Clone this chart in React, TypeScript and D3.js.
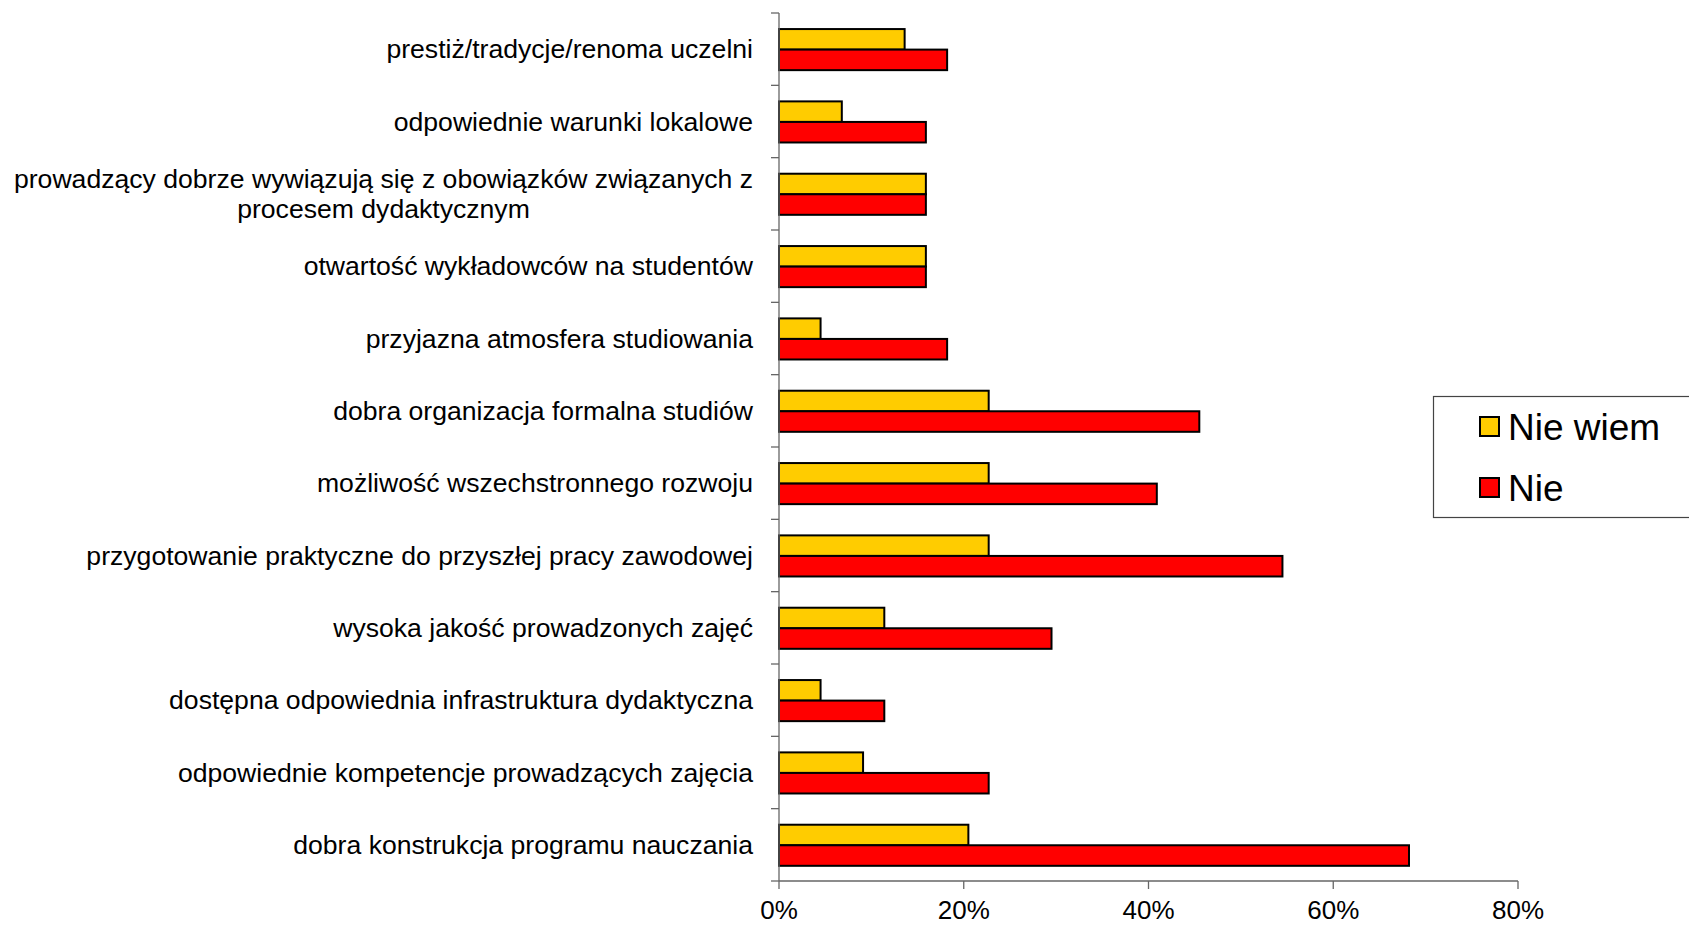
import React, { useEffect, useRef } from "react";
import * as d3 from "d3";

const categories: string[][] = [
  ["prestiż/tradycje/renoma uczelni"],
  ["odpowiednie warunki lokalowe"],
  ["prowadzący dobrze wywiązują się z obowiązków związanych z", "procesem dydaktycznym"],
  ["otwartość wykładowców na studentów"],
  ["przyjazna atmosfera studiowania"],
  ["dobra organizacja formalna studiów"],
  ["możliwość wszechstronnego rozwoju"],
  ["przygotowanie praktyczne do przyszłej pracy zawodowej"],
  ["wysoka jakość prowadzonych zajęć"],
  ["dostępna odpowiednia infrastruktura dydaktyczna"],
  ["odpowiednie kompetencje prowadzących zajęcia"],
  ["dobra konstrukcja programu nauczania"],
];

const nieWiem: number[] = [13.6, 6.8, 15.9, 15.9, 4.5, 22.7, 22.7, 22.7, 11.4, 4.5, 9.1, 20.5];
const nie: number[] = [18.2, 15.9, 15.9, 15.9, 18.2, 45.5, 40.9, 54.5, 29.5, 11.4, 22.7, 68.2];
const xTicks: number[] = [0, 20, 40, 60, 80];
const seriesNames: string[] = ["Nie wiem", "Nie"];
const seriesColors: string[] = ["#FFCC00", "#FF0000"];

export default function App() {
  const ref = useRef<SVGSVGElement | null>(null);

  useEffect(() => {
    const svg = d3.select(ref.current);
    svg.selectAll("*").remove();
    const font = "Liberation Sans, Arial, sans-serif";
    const fs = 26.6;

    const left = 779, right = 1518, top = 13, bottom = 881;
    const x = d3.scaleLinear().domain([0, 80]).range([left, right]);
    const y = d3.scaleBand<number>().domain(d3.range(categories.length)).range([top, bottom]);
    const bw = y.bandwidth();
    const barH = bw * 0.284;
    const off = bw * 0.222;

    const g = svg.append("g");

    const series = [nieWiem, nie];
    series.forEach((vals, si) => {
      g.selectAll(null)
        .data(vals)
        .enter()
        .append("rect")
        .attr("x", x(0))
        .attr("y", (_, i) => (y(i) as number) + off + si * barH)
        .attr("width", (d) => x(d) - x(0))
        .attr("height", barH)
        .attr("fill", seriesColors[si])
        .attr("stroke", "#000")
        .attr("stroke-width", 2);
    });

    const axisColor = "#666";
    g.append("line")
      .attr("x1", left).attr("x2", left).attr("y1", top).attr("y2", bottom)
      .attr("stroke", axisColor).attr("stroke-width", 1.3);
    for (let i = 0; i <= categories.length; i++) {
      const yy = i < categories.length ? (y(i) as number) : bottom;
      g.append("line")
        .attr("x1", left - 8).attr("x2", left).attr("y1", yy).attr("y2", yy)
        .attr("stroke", axisColor).attr("stroke-width", 1.3);
    }
    g.append("line")
      .attr("x1", left).attr("x2", right).attr("y1", bottom).attr("y2", bottom)
      .attr("stroke", axisColor).attr("stroke-width", 1.3);
    xTicks.forEach((t) => {
      g.append("line")
        .attr("x1", x(t)).attr("x2", x(t)).attr("y1", bottom).attr("y2", bottom + 8)
        .attr("stroke", axisColor).attr("stroke-width", 1.3);
      g.append("text")
        .attr("x", x(t)).attr("y", bottom + 38)
        .attr("text-anchor", "middle")
        .attr("font-family", font).attr("font-size", 26).attr("fill", "#000")
        .text(`${t}%`);
    });

    const labelRight = 753;
    categories.forEach((lines, i) => {
      const cy = (y(i) as number) + bw / 2;
      const lh = 30;
      if (lines.length === 1) {
        g.append("text")
          .attr("x", labelRight).attr("y", cy + 9)
          .attr("text-anchor", "end")
          .attr("font-family", font).attr("font-size", fs).attr("fill", "#000")
          .text(lines[0]);
      } else {
        const t1 = g.append("text")
          .attr("x", labelRight).attr("y", cy + 9 - lh / 2)
          .attr("text-anchor", "end")
          .attr("font-family", font).attr("font-size", fs).attr("fill", "#000")
          .text(lines[0]);
        const w1 = (t1.node() as SVGTextElement).getComputedTextLength();
        g.append("text")
          .attr("x", labelRight - w1 / 2).attr("y", cy + 9 + lh / 2)
          .attr("text-anchor", "middle")
          .attr("font-family", font).attr("font-size", fs).attr("fill", "#000")
          .text(lines[1]);
      }
    });

    const lg = svg.append("g");
    lg.append("rect")
      .attr("x", 1433.5).attr("y", 396.5).attr("width", 300).attr("height", 121)
      .attr("fill", "#fff").attr("stroke", "#444").attr("stroke-width", 1.2);
    seriesNames.forEach((name, i) => {
      const sy = 417 + i * 61;
      lg.append("rect")
        .attr("x", 1480).attr("y", sy).attr("width", 19).attr("height", 19)
        .attr("fill", seriesColors[i]).attr("stroke", "#000").attr("stroke-width", 2);
      lg.append("text")
        .attr("x", 1508).attr("y", sy + 23)
        .attr("font-family", font).attr("font-size", 37).attr("fill", "#000")
        .text(name);
    });
  }, []);

  return (
    <svg
      ref={ref}
      width={1689}
      height={925}
      style={{ position: "absolute", left: 0, top: 0, background: "#fff" }}
    />
  );
}
